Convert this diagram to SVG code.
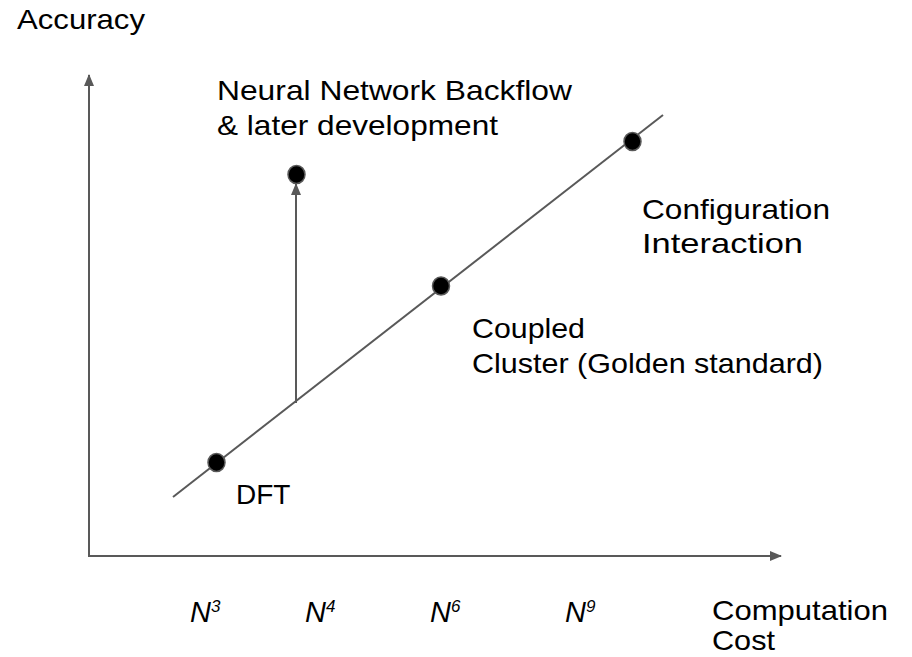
<svg xmlns="http://www.w3.org/2000/svg" width="912" height="657" viewBox="0 0 912 657">
<defs>
<marker id="ah" markerWidth="12" markerHeight="10" refX="11" refY="5" orient="auto" markerUnits="userSpaceOnUse">
<path d="M0,0 L12,5 L0,10 Z" fill="#595959"/>
</marker>
<style>
.ln{stroke:#595959;stroke-width:2;fill:none}
.dot{fill:#000;stroke:#595959;stroke-width:1.5}
.t{font-family:"Liberation Sans",Arial,sans-serif;font-size:28px;fill:#000}
.n{font-family:"Liberation Sans",Arial,sans-serif;font-size:29px;font-style:italic;fill:#000}
.sup{font-size:17px}
</style>
</defs>
<rect width="912" height="657" fill="#fff"/>
<g id="connectors">
<line class="ln" x1="89" y1="556" x2="89" y2="75" marker-end="url(#ah)"/>
<line class="ln" x1="88" y1="556" x2="781" y2="556" marker-end="url(#ah)"/>
<line class="ln" x1="173" y1="497" x2="663" y2="115"/>
<line class="ln" x1="296" y1="403" x2="296" y2="184" marker-end="url(#ah)"/>
</g>
<g id="dft"><ellipse class="dot" cx="216.5" cy="462.5" rx="8.5" ry="9"/><text class="t" x="236" y="504">DFT</text></g>
<g id="nnb"><ellipse class="dot" cx="296.5" cy="174.5" rx="8.5" ry="9"/><text class="t" x="217" y="100" textLength="355" lengthAdjust="spacingAndGlyphs">Neural Network Backflow</text><text class="t" x="217" y="135" textLength="281" lengthAdjust="spacingAndGlyphs">&amp; later development</text></g>
<g id="cc"><ellipse class="dot" cx="441" cy="286" rx="8.5" ry="9"/><text class="t" x="472" y="338" textLength="113" lengthAdjust="spacingAndGlyphs">Coupled</text><text class="t" x="472" y="373" textLength="351" lengthAdjust="spacingAndGlyphs">Cluster (Golden standard)</text></g>
<g id="ci"><ellipse class="dot" cx="632.5" cy="141.5" rx="8.5" ry="9"/><text class="t" x="642" y="219" textLength="188" lengthAdjust="spacingAndGlyphs">Configuration</text><text class="t" x="642" y="253" textLength="161" lengthAdjust="spacingAndGlyphs">Interaction</text></g>
<g id="yaxis"><text class="t" x="17" y="29" textLength="128" lengthAdjust="spacingAndGlyphs">Accuracy</text></g>
<g id="xaxis"><text class="t" x="712" y="620" textLength="176" lengthAdjust="spacingAndGlyphs">Computation</text><text class="t" x="712" y="650" textLength="63" lengthAdjust="spacingAndGlyphs">Cost</text></g>
<g id="ticks">
<text class="n" x="190" y="622">N<tspan class="sup" dy="-10">3</tspan></text>
<text class="n" x="305" y="622">N<tspan class="sup" dy="-10">4</tspan></text>
<text class="n" x="430" y="622">N<tspan class="sup" dy="-10">6</tspan></text>
<text class="n" x="565" y="622">N<tspan class="sup" dy="-10">9</tspan></text>
</g>
</svg>
